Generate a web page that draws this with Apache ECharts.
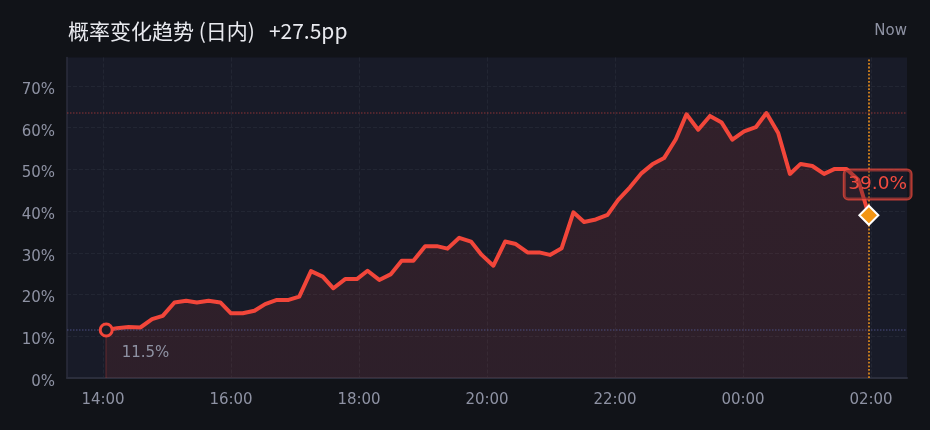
<!DOCTYPE html>
<html>
<head>
<meta charset="utf-8">
<script src="https://cdn.jsdelivr.net/npm/echarts@6/dist/echarts.min.js"></script>
<style>
html,body{margin:0;padding:0;background:#111318;}
#chart{width:930px;height:430px;}
</style>
</head>
<body>
<div id="chart"></div>
<script>
// ---- data ----
const times = [
  '14:03','14:13','14:24','14:35','14:46','14:56','15:07','15:18','15:28','15:39',
  '15:50','16:00','16:11','16:22','16:32','16:43','16:54','17:04','17:15','17:26',
  '17:36','17:47','17:58','18:08','18:19','18:30','18:40','18:51','19:02','19:13',
  '19:23','19:34','19:45','19:55','20:06','20:17','20:27','20:38','20:49','20:59',
  '21:10','21:21','21:31','21:42','21:53','22:03','22:14','22:25','22:35','22:46',
  '22:57','23:07','23:18','23:29','23:40','23:50','00:01','00:12','00:22','00:33',
  '00:44','00:54','01:05','01:16','01:26','01:37','01:48','01:58'
];
const probs = [
  11.5, 11.9, 12.2, 12.1, 14.1, 14.9, 18.1, 18.5, 18.1, 18.5,
  18.1, 15.5, 15.5, 16.1, 17.7, 18.7, 18.7, 19.5, 25.6, 24.3,
  21.5, 23.7, 23.7, 25.7, 23.5, 24.9, 28.1, 28.1, 31.6, 31.6,
  31.0, 33.6, 32.7, 29.5, 26.9, 32.7, 32.1, 30.1, 30.1, 29.5,
  31.1, 39.7, 37.4, 38.0, 39.1, 42.7, 45.7, 49.1, 51.2, 52.7,
  57.2, 63.2, 59.5, 62.8, 61.2, 57.1, 59.1, 60.1, 63.5, 58.7,
  48.9, 51.3, 50.8, 48.9, 50.1, 50.1, 47.5, 39.0
];
const xTickLabels = ['14:00','16:00','18:00','20:00','22:00','00:00','02:00'];
const yTickValues = [0, 10, 20, 30, 40, 50, 60, 70];
const titleText = '概率变化趋势 (日内)';
const changeText = '+27.5pp';
const nowText = 'Now';

// ---- helpers ----
function toMin(s) {
  const p = s.split(':').map(Number);
  return (p[0] < 12 ? p[0] + 24 : p[0]) * 60 + p[1];
}
const xTickValues = xTickLabels.map(toMin);
const seriesData = times.map((t, i) => [toMin(t), probs[i]]);
const first = seriesData[0];
const last = seriesData[seriesData.length - 1];
const maxVal = Math.max.apply(null, probs);

const RED = '#f2463a';
const chart = echarts.init(document.getElementById('chart'));
chart.setOption({
  backgroundColor: '#111318',
  animation: false,
  textStyle: { fontFamily: 'DejaVu Sans, sans-serif' },
  title: [{
    text: '{a|' + titleText + '}{b|' + changeText + '}',
    left: 63, top: 16,
    textStyle: {
      rich: {
        a: { fontFamily: 'Noto Sans CJK SC', fontSize: 21, fontWeight: 'normal', color: '#e9eaef' },
        b: { fontFamily: 'Noto Sans CJK SC', fontSize: 21, fontWeight: 'normal', color: '#e9eaef', padding: [0, 0, 0, 14] }
      }
    }
  }, {
    text: nowText,
    right: 18, top: 19,
    textStyle: { fontFamily: 'DejaVu Sans', fontSize: 15, fontWeight: 'normal', color: '#8e92a3' }
  }],
  grid: {
    left: 67, right: 23, top: 57.5, bottom: 52,
    show: true, backgroundColor: '#181b28', borderWidth: 0
  },
  xAxis: {
    type: 'value',
    min: 806.25, max: 1593.75,
    axisLine: { show: true, lineStyle: { color: '#2b2e3c', width: 2 } },
    axisTick: { show: false, customValues: xTickValues },
    axisLabel: {
      customValues: xTickValues,
      color: '#8e92a3', fontSize: 15, margin: 15,
      formatter: v => xTickLabels[xTickValues.indexOf(v)]
    },
    splitLine: { show: true, lineStyle: { color: '#222633', type: 'dashed', width: 1 } }
  },
  yAxis: {
    type: 'value',
    min: 0, max: 76.8,
    axisLine: { show: true, lineStyle: { color: '#2b2e3c', width: 1.5 } },
    axisTick: { show: false, customValues: yTickValues },
    axisLabel: {
      customValues: yTickValues,
      color: '#8e92a3', fontSize: 15, margin: 12,
      verticalAlign: 'top',
      lineHeight: 8,
      formatter: v => v + '%'
    },
    splitLine: { show: true, lineStyle: { color: '#222633', type: 'dashed', width: 1 } }
  },
  series: [{
    type: 'line',
    data: seriesData,
    showSymbol: false,
    symbol: 'none',
    lineStyle: { color: RED, width: 4, join: 'round' },
    areaStyle: {
      color: new echarts.graphic.LinearGradient(0, 0, 0, 1, [
        { offset: 0, color: 'rgba(242,70,58,0.17)' },
        { offset: 1, color: 'rgba(242,70,58,0.14)' }
      ])
    },
    z: 3,
    markLine: {
      silent: true,
      symbol: 'none',
      label: { show: false },
      data: [
        { yAxis: maxVal, lineStyle: { color: 'rgba(200,65,60,0.45)', type: 'dotted', width: 1.5 } },
        { yAxis: first[1], lineStyle: { color: 'rgba(80,85,140,0.6)', type: 'dotted', width: 1.5 } },
        { xAxis: last[0], lineStyle: { color: '#d9851c', type: 'dotted', width: 1.8 } },
        [
          { coord: [first[0], first[1]], lineStyle: { color: 'rgba(242,70,58,0.22)', type: 'solid', width: 1.5 } },
          { coord: [first[0], 0] }
        ]
      ]
    }
  }, {
    type: 'scatter',
    z: 5,
    itemStyle: { opacity: 1 },
    data: [{
      value: first,
      symbol: 'circle',
      symbolSize: 12,
      itemStyle: { color: '#1a1c27', borderColor: RED, borderWidth: 3, opacity: 1 },
      label: {
        show: true, formatter: first[1].toFixed(1) + '%',
        position: [23, 31], align: 'left', verticalAlign: 'middle',
        color: '#8e92a3', fontSize: 15
      }
    }, {
      value: last,
      symbol: 'diamond',
      symbolSize: 19,
      itemStyle: { color: '#f39512', borderColor: '#ffffff', borderWidth: 2, opacity: 1 },
      label: {
        show: true, formatter: last[1].toFixed(1) + '%',
        position: [19.3, -20.3], align: 'center', verticalAlign: 'middle',
        color: '#f04b3f', fontSize: 18.5, lineHeight: 22,
        padding: [4, 4, 3, 4],
        borderColor: 'rgba(240,74,60,0.75)', borderWidth: 1.5, borderRadius: 4,
        backgroundColor: 'rgba(24,27,40,0.3)'
      }
    }]
  }]
});
</script>
</body>
</html>
